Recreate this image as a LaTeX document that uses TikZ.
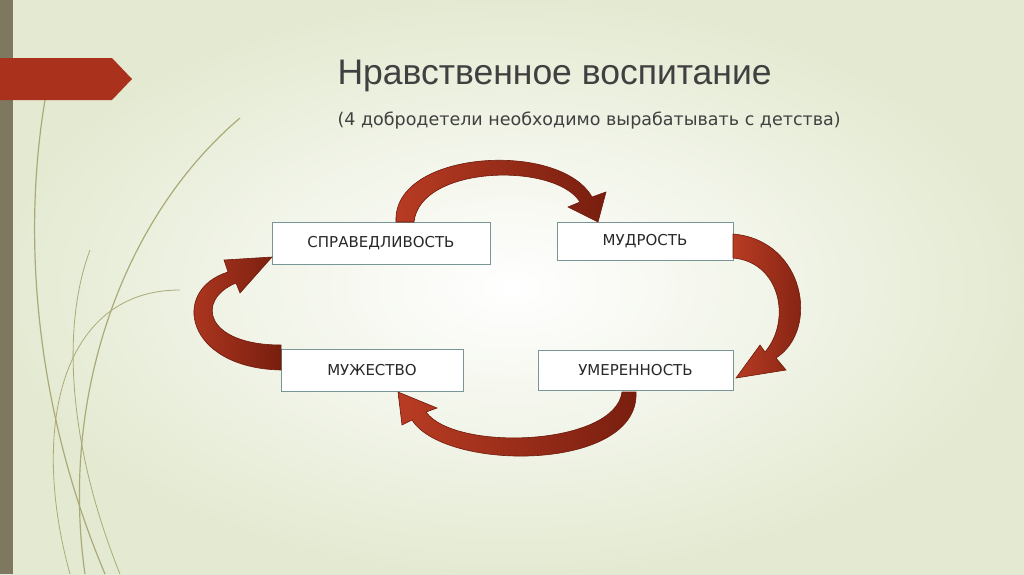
\documentclass[tikz,border=0pt]{standalone}
\usepackage{fontspec}
\setmainfont{Liberation Sans}
\newfontfamily\wide{DejaVu Sans}
\definecolor{bgc}{RGB}{228,234,210}
\definecolor{boxb}{RGB}{120,150,150}
\definecolor{txt}{RGB}{40,40,40}
\definecolor{ttl}{RGB}{64,64,64}
\definecolor{ribd}{RGB}{110,25,10}
\definecolor{ribl}{RGB}{185,60,35}
\definecolor{ribr}{RGB}{120,30,15}
\definecolor{decoc}{RGB}{170,170,120}
\definecolor{barc}{RGB}{125,120,95}
\definecolor{banc}{RGB}{170,50,28}
\begin{document}
\begin{tikzpicture}[x=1pt,y=-1pt,
  vbox/.style={draw=boxb,line width=1pt,fill=white,minimum height=42pt,font=\wide\fontsize{15}{17}\selectfont,text=txt},
  rib/.style={draw=ribd,line width=0.6pt,left color=ribl,right color=ribr},
  deco/.style={draw=decoc,line width=1.2pt}]
\useasboundingbox (0,0) rectangle (1024,574);
\shade[inner color=white,outer color=bgc] (0,0) rectangle (1024,574);
\draw[deco] (105,574) .. controls (40,420) and (20,250) .. (45,100);
\draw[deco] (85,574) .. controls (60,400) and (120,220) .. (240,118);
\draw[deco,line width=0.8pt] (70,574) .. controls (30,430) and (60,290) .. (180,290);
\draw[deco,line width=0.8pt] (120,574) .. controls (70,450) and (60,330) .. (90,250);
\fill[barc] (0,0) rectangle (13,574);
\fill[banc] (0,58) -- (112,58) -- (132,79) -- (112,100) -- (0,100) -- cycle;
\node[anchor=west,font=\fontsize{35.5}{40}\selectfont,text=ttl] (title) at (334,76) {Нравственное воспитание};
\node[anchor=west,font=\wide\fontsize{17.5}{20}\selectfont,text=ttl] (sub) at (334,121) {(4 добродетели необходимо вырабатывать с детства)};
\node[vbox,minimum width=218pt] (s) at (381,243.5) {СПРАВЕДЛИВОСТЬ};
\node[vbox,minimum width=176pt,minimum height=38pt] (m) at (645,241) {МУДРОСТЬ};
\node[vbox,minimum width=182pt] (z) at (372,370.5) {МУЖЕСТВО};
\node[vbox,minimum width=195pt,minimum height=40pt] (u) at (635.5,370) {УМЕРЕННОСТЬ};
\path[rib] (396,222) .. controls (392,150) and (560,140) .. (592,197) -- (606,192) -- (598,222) -- (568,207) -- (580,202) .. controls (555,162) and (420,165) .. (414,222) -- cycle;
\path[rib] (733,234) .. controls (805,240) and (820,330) .. (776,358) -- (786,370) -- (736,378) -- (760,345) -- (765,352) .. controls (792,320) and (780,262) .. (733,258) -- cycle;
\path[rib] (636,392) .. controls (640,472) and (445,472) .. (412,420) -- (402,425) -- (398,392) -- (437,408) -- (426,412) .. controls (455,452) and (615,446) .. (622,392) -- cycle;
\path[rib] (281,370) .. controls (185,368) and (170,290) .. (228,272) -- (224,260) -- (272,257) -- (240,293) -- (236,283) .. controls (195,300) and (205,345) .. (281,345) -- cycle;
\end{tikzpicture}
\end{document}
